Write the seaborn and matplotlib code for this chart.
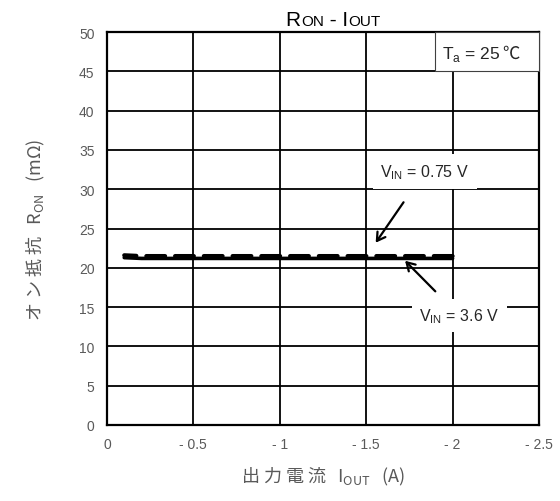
import numpy as np
import pandas as pd
import matplotlib
matplotlib.use('Agg')
import matplotlib.pyplot as plt
import seaborn as sns
from matplotlib.offsetbox import TextArea, HPacker, AnchoredOffsetbox
from matplotlib.patches import Rectangle

# data
iout = [-0.1, -0.2, -0.3, -0.4, -0.5, -0.6, -0.7, -0.8, -0.9, -1.0,
        -1.1, -1.2, -1.3, -1.4, -1.5, -1.6, -1.7, -1.8, -1.9, -2.0]
ron_vin_075 = [21.6, 21.5, 21.5, 21.5, 21.5, 21.5, 21.5, 21.5, 21.5, 21.5,
               21.5, 21.5, 21.5, 21.5, 21.5, 21.5, 21.5, 21.5, 21.5, 21.5]
ron_vin_36 = [21.3, 21.2, 21.2, 21.2, 21.2, 21.2, 21.2, 21.2, 21.2, 21.2,
              21.2, 21.2, 21.2, 21.2, 21.2, 21.2, 21.2, 21.2, 21.2, 21.2]
xticks = [0, -0.5, -1, -1.5, -2, -2.5]
xtick_labels = ['0', '- 0.5', '- 1', '- 1.5', '- 2', '- 2.5']
yticks = [0, 5, 10, 15, 20, 25, 30, 35, 40, 45, 50]

df = pd.DataFrame({'iout': iout, 'v075': ron_vin_075, 'v36': ron_vin_36})

sns.set_style("white")
plt.rcParams['font.family'] = ['Liberation Sans', 'Noto Sans CJK JP', 'DejaVu Sans']
plt.rcParams['mathtext.fontset'] = 'custom'
plt.rcParams['mathtext.rm'] = 'Liberation Sans'

GRAY = '#595959'
JP = ['Noto Sans CJK JP', 'DejaVu Sans']

fig = plt.figure(figsize=(5.6, 5.02), dpi=100)
ax = fig.add_axes([0.191, 0.1514, 0.7715, 0.7826])

ax.set_xlim(0, -2.5)
ax.set_ylim(0, 50)
ax.set_xticks(xticks)
ax.set_xticklabels(xtick_labels)
ax.set_yticks(yticks)
ax.grid(True, color='black', linewidth=1.3)
ax.set_axisbelow(True)
for sp in ax.spines.values():
    sp.set_color('black')
    sp.set_linewidth(1.6)
ax.tick_params(length=0, labelsize=10, labelcolor=GRAY, pad=9)

sns.lineplot(data=df, x='iout', y='v36', ax=ax, color='black', linewidth=2.6)
sns.lineplot(data=df, x='iout', y='v075', ax=ax, color='black', linewidth=3.0)
dash_line = ax.lines[-1]
dash_line.set_dashes((4.5, 2.4))
dash_line.set_dash_capstyle('round')

ax.set_xlabel('出 力 電 流   I$_{\\mathregular{OUT}}$   (A)', family=JP, fontsize=13,
              color=GRAY, labelpad=10)
ax.set_ylabel('オ ン 抵 抗   R$_{\\mathregular{ON}}$   (mΩ)', family=JP, fontsize=13,
              color=GRAY, labelpad=23)

# title with small-caps look
parts = [('R', 15), ('ON', 11), (' - I', 15), ('OUT', 11)]
boxes = [TextArea(t, textprops=dict(size=s, color='black')) for t, s in parts]
title = HPacker(children=boxes, align='baseline', pad=0, sep=0)
ax.add_artist(AnchoredOffsetbox(loc='lower center', child=title, pad=0, borderpad=0,
                                frameon=False, bbox_to_anchor=(0.523, 1.008),
                                bbox_transform=ax.transAxes))

# Ta box
ax.add_patch(Rectangle((-1.9, 45), -0.6, 5, facecolor='white', edgecolor='#404040',
                       linewidth=0.8, zorder=3, clip_on=False))
ta = HPacker(children=[TextArea('T$_{\\mathregular{a}}$ = 25 ', textprops=dict(size=12.5)),
                       TextArea('℃', textprops=dict(size=12.5, family=JP))],
             align='baseline', pad=0, sep=1)
ta_box = AnchoredOffsetbox(loc='center', child=ta, pad=0, borderpad=0, frameon=False,
                           bbox_to_anchor=(-2.165, 47.3), bbox_transform=ax.transData)
ta_box.set_zorder(4)
ax.add_artist(ta_box)

# annotations
ax.annotate('V$_{\\mathregular{IN}}$ = 0.75 V', xy=(-1.555, 23.2), xytext=(-1.84, 32.3),
            fontsize=11.5, ha='center', va='center', zorder=4,
            bbox=dict(boxstyle='square,pad=0.5', facecolor='white', edgecolor='none'),
            arrowprops=dict(arrowstyle='->,head_length=0.5,head_width=0.3',
                            color='black', lw=1.6, shrinkA=12, shrinkB=0))
ax.annotate('V$_{\\mathregular{IN}}$ = 3.6 V', xy=(-1.725, 20.9), xytext=(-2.04, 13.9),
            fontsize=11.5, ha='center', va='center', zorder=4,
            bbox=dict(boxstyle='square,pad=0.45', facecolor='white', edgecolor='none'),
            arrowprops=dict(arrowstyle='->,head_length=0.5,head_width=0.3',
                            color='black', lw=1.6, shrinkA=8, shrinkB=0))

fig.savefig('out.png', dpi=100)
